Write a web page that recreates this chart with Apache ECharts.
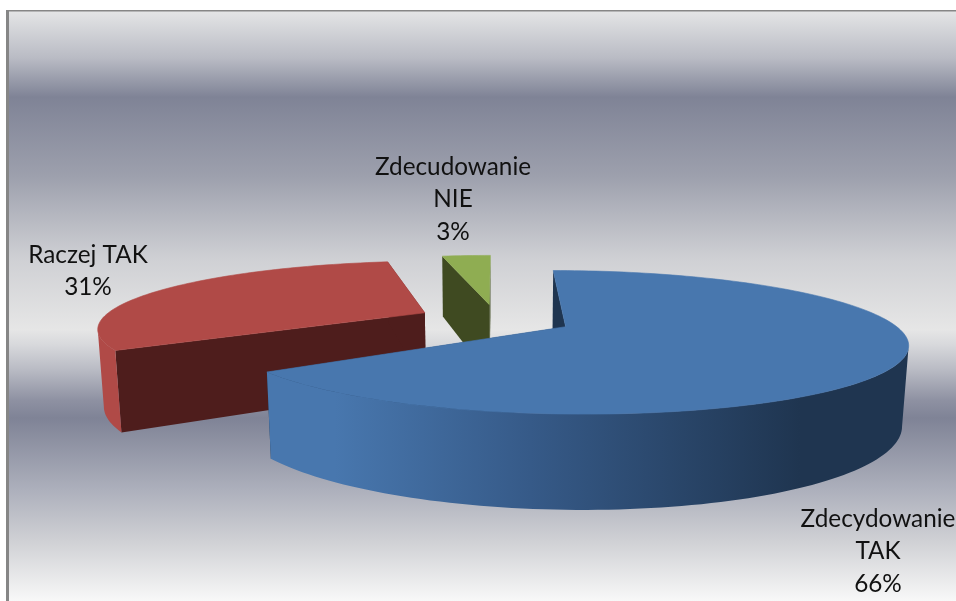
<!DOCTYPE html>
<html>
<head>
<meta charset="utf-8">
<style>html,body{margin:0;padding:0;background:#fff}#c{width:956px;height:601px}</style>
<script src="https://cdn.jsdelivr.net/npm/echarts@6/dist/echarts.min.js"></script>
</head>
<body>
<div id="c"></div>
<script>
const categories = ['Zdecydowanie\nTAK', 'Raczej TAK', 'Zdecudowanie\nNIE'];
const values = [66, 31, 3];

const topColors = ['#4877ae', '#b04a47', '#8fad52'];
const sideColors = ['#1f3550', '#4e1d1c', '#3f4a21'];
const outerColors = [
  {type:'linear',x:335,y:0,x2:800,y2:0,global:true,colorStops:[
    {offset:0,color:'#4877ae'},{offset:0.42,color:'#365a88'},{offset:1,color:'#1f3550'}]},
  '#b04a47',
  '#3f4a21'
];
const labelCenters = [[878,551.5],[88,271],[453,199.5]];
const drawOrder = [3,1,2];
const explodeBySlice = [0.24,0.245,0.233];
const endTrimDeg = [3,0,0];

// pie projection
const CX=496, CY=319, RX=323, RY=65.1, K=0.212, DEPTH=76, M=0.015, START=-90;
const rad = d => d*Math.PI/180;
function project(X,Y,t){
  const w = 1 - K*Y + M*t;
  return [CX + RX*X/w, CY + (RY*Y + DEPTH*t)/w];
}
const total = values.reduce((a,b)=>a+b,0);
function sliceAngles(i){
  let a = START;
  for(let j=0;j<i;j++) a += values[j]/total*360;
  return [a, a + values[i]/total*360];
}
function arcPts(ox,oy,a0,a1,t){
  const n = Math.max(2,Math.ceil(Math.abs(a1-a0)/1.5));
  const pts=[];
  for(let i=0;i<=n;i++){
    const a = rad(a0+(a1-a0)*i/n);
    pts.push(project(ox+Math.cos(a),oy+Math.sin(a),t));
  }
  return pts;
}
// angles where the rim reaches its right and left extremes on screen
function silhouette(ox,oy){
  let best=[0,180], maxX=-1e9, minX=1e9;
  for(let a=-90;a<=270;a+=0.5){
    const x=project(ox+Math.cos(rad(a)),oy+Math.sin(rad(a)),0)[0];
    if(x>maxX){maxX=x;best[0]=a;}
    if(x<minX){minX=x;best[1]=a;}
  }
  return best;
}
function renderItem(params, api){
  const i = params.dataIndex;
  const [a0,rawEnd] = sliceAngles(i);
  const mid = rad((a0+rawEnd)/2);
  const a1 = rawEnd - endTrimDeg[i];
  const d = explodeBySlice[i];
  const ox = d*Math.cos(mid), oy = d*Math.sin(mid);
  const z = drawOrder[i];
  const children = [];
  const poly = (pts,fill,stroke)=>children.push({type:'polygon',z2:z,shape:{points:pts},
    style:{fill:fill,stroke:stroke||null,lineWidth:stroke?0.6:0}});
  const edge = (a)=>{
    const r=rad(a);
    const X=ox+Math.cos(r),Y=oy+Math.sin(r);
    return [project(ox,oy,0),project(X,Y,0),project(X,Y,1),project(ox,oy,1)];
  };
  // radial walls, back first
  poly(edge(a0), sideColors[i]);
  poly(edge(a1), sideColors[i]);
  // outer wall: only the part facing the viewer
  const sil = silhouette(ox,oy);
  const wa0=Math.max(a0,sil[0]), wa1=Math.min(a1,sil[1]);
  if(wa1>wa0){
    poly(arcPts(ox,oy,wa0,wa1,0).concat(arcPts(ox,oy,wa0,wa1,1).reverse()), outerColors[i]);
  }
  // top face
  poly([project(ox,oy,0)].concat(arcPts(ox,oy,a0,a1,0)), topColors[i], topColors[i]);
  // label
  const c = labelCenters[i];
  children.push({type:'text',z2:10,style:{
    text: categories[i]+'\n'+api.value(0)+'%',
    x:c[0],y:c[1],align:'center',verticalAlign:'middle',
    fill:'#111',font:'24.3px Lato',lineHeight:32.5
  }});
  return {type:'group',children:children};
}
const chart = echarts.init(document.getElementById('c'),null,{renderer:'canvas'});
chart.setOption({
  animation:false,
  backgroundColor:'#fff',
  graphic:[
    {type:'rect',z:-10,shape:{x:9,y:11,width:947,height:590},style:{fill:{type:'linear',x:0,y:0,x2:0,y2:1,colorStops:[
      {offset:0,color:'#e4e5e6'},{offset:0.08,color:'#b9bbc4'},{offset:0.146,color:'#7f8396'},
      {offset:0.28,color:'#9da0ad'},{offset:0.42,color:'#cfd0d4'},{offset:0.54,color:'#e6e6e6'},
      {offset:0.565,color:'#d8d9dc'},{offset:0.608,color:'#b9bbc4'},{offset:0.66,color:'#8e91a2'},
      {offset:0.69,color:'#7f8396'},{offset:0.812,color:'#adb0bc'},{offset:0.897,color:'#cfd0d4'},
      {offset:1,color:'#f8f8f8'}]}}},
    {type:'rect',z:-9,shape:{x:6,y:10,width:3,height:591},style:{fill:'#868686'}},
    {type:'rect',z:-9,shape:{x:6,y:10,width:950,height:1.5},style:{fill:'#868686'}}
  ],
  series:[{
    type:'custom',
    coordinateSystem:'none',
    renderItem:renderItem,
    data:values.map((v,i)=>({name:categories[i],value:[v]})),
    silent:true
  }]
});
</script>
</body>
</html>
